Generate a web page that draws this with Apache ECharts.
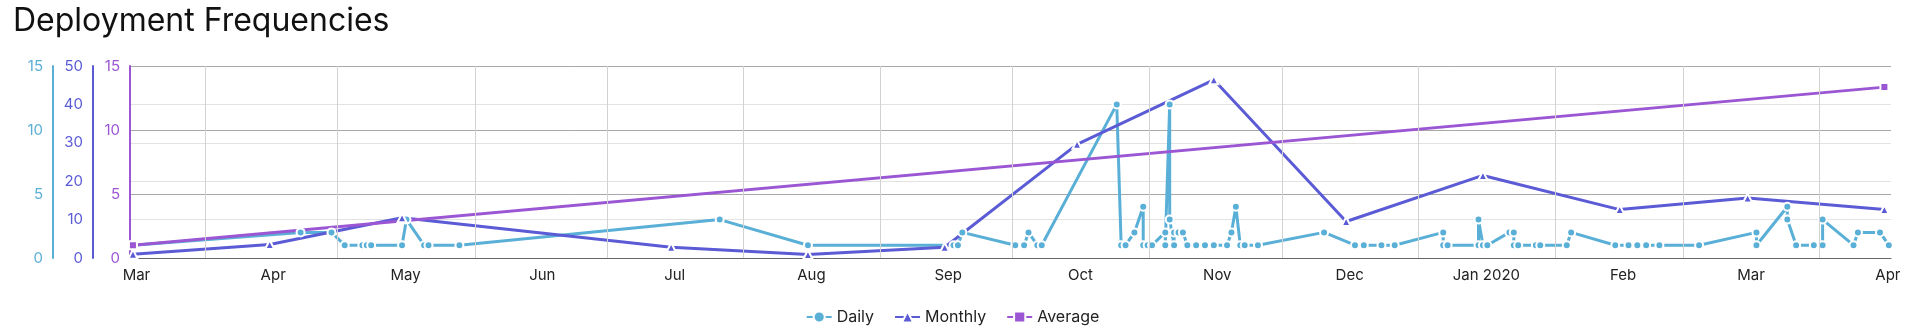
<!DOCTYPE html>
<html><head><meta charset="utf-8">
<script src="https://cdn.jsdelivr.net/npm/echarts@6/dist/echarts.min.js"></script>
<style>html,body{margin:0;padding:0;background:#fff;}#c{width:1905px;height:334px;}</style>
</head><body><div id="c"></div><script>
// ---- data ----
const dailyDates = ['2019-03-01','2019-04-08','2019-04-15','2019-04-18','2019-04-22','2019-04-23','2019-04-24','2019-05-01','2019-05-02','2019-05-06','2019-05-07','2019-05-14','2019-07-12','2019-08-01','2019-09-03','2019-09-04','2019-09-05','2019-09-17','2019-09-19','2019-09-20','2019-09-22','2019-09-23','2019-10-10','2019-10-11','2019-10-12','2019-10-14','2019-10-16','2019-10-16','2019-10-17','2019-10-18','2019-10-21','2019-10-21','2019-10-22','2019-10-22','2019-10-23','2019-10-23','2019-10-24','2019-10-25','2019-10-26','2019-10-28','2019-10-30','2019-11-01','2019-11-04','2019-11-05','2019-11-06','2019-11-07','2019-11-08','2019-11-11','2019-11-26','2019-12-03','2019-12-05','2019-12-09','2019-12-12','2019-12-23','2019-12-23','2019-12-24','2019-12-31','2019-12-31','2020-01-01','2020-01-02','2020-01-07','2020-01-08','2020-01-08','2020-01-09','2020-01-13','2020-01-14','2020-01-20','2020-01-21','2020-01-31','2020-02-03','2020-02-05','2020-02-07','2020-02-10','2020-02-19','2020-03-03','2020-03-03','2020-03-10','2020-03-10','2020-03-12','2020-03-16','2020-03-18','2020-03-18','2020-03-25','2020-03-26','2020-03-31','2020-04-02'];
const dailyValues = [1,2,2,1,1,1,1,1,3,1,1,1,3,1,1,1,2,1,1,2,1,1,12,1,1,2,4,1,1,1,2,1,12,3,1,2,2,2,1,1,1,1,1,2,4,1,1,1,2,1,1,1,1,2,1,1,1,3,1,1,2,2,1,1,1,1,1,2,1,1,1,1,1,1,2,1,4,3,1,1,1,3,1,2,2,1];
const monthlyDates = ['2019-03-01','2019-04-01','2019-05-01','2019-07-01','2019-08-01','2019-09-01','2019-10-01','2019-11-01','2019-12-01','2020-01-01','2020-02-01','2020-03-01','2020-04-01'];
const monthlyValues = [1,3.5,10.5,2.8,0.9,2.8,29.6,46.4,9.5,21.5,12.6,15.6,12.6];
const averageDates = ['2019-03-01','2020-04-01'];
const averageValues = [1.0,13.35];
const xTickDates = ['2019-03-01','2019-04-01','2019-05-01','2019-06-01','2019-07-01','2019-08-01','2019-09-01','2019-10-01','2019-11-01','2019-12-01','2020-01-01','2020-02-01','2020-03-01','2020-04-01'];
const xTickLabels = ['Mar','Apr','May','Jun','Jul','Aug','Sep','Oct','Nov','Dec','Jan 2020','Feb','Mar','Apr'];
const xGridDates = ['2019-03-17 12:00','2019-04-16 10:00','2019-05-17 12:00','2019-06-16 10:00','2019-07-17 10:00','2019-08-17 10:00','2019-09-16 10:00','2019-10-17 10:00','2019-11-16 10:00','2019-12-17 10:00','2020-01-17 12:00','2020-02-15 12:00','2020-03-17 07:00'];
const xRange = ['2019-02-28 08:00','2020-04-02 12:00'];
const dailyAxis = {min:0,max:15,interval:5};
const monthlyAxis = {min:0,max:50,interval:10};
const averageAxis = {min:0,max:15,interval:5};

// ---- chart ----
const T = s => +echarts.number.parseDate(s);
const C = {daily:'#5aafd7', monthly:'#5b5bd6', average:'#9b57d3'};
const FONT = 'Inter, "Noto Sans", sans-serif';
const zip = (d, v) => d.map((x, i) => [T(x), v[i]]);
const tickVals = xTickDates.map(T);
const chart = echarts.init(document.getElementById('c'), null, {renderer:'canvas'});
function yAx(cfg, color, offset, split) {
  return Object.assign({
    type:'value', position:'left', offset,
    axisLine:{show:true, lineStyle:{color, width:2}},
    axisTick:{show:false},
    axisLabel:{color, fontSize:15, fontFamily:FONT, margin:10},
    splitLine: split ? {show:true, lineStyle:{color:split, width:1}} : {show:false}
  }, cfg);
}
chart.setOption({
  animation:false,
  title:{text:'Deployment Frequencies', left:8, top:0, textStyle:{fontSize:32, fontWeight:'normal', color:'#111', fontFamily:FONT}},
  legend:{data:['Daily','Monthly','Average'], bottom:4, left:'center', itemGap:20, itemWidth:25, itemHeight:14,
    textStyle:{fontSize:16, color:'#222', fontFamily:FONT}},
  grid:{left:130, right:14, top:66, bottom:76},
  xAxis:{type:'value', min:T(xRange[0]), max:T(xRange[1]),
    axisLine:{show:true, lineStyle:{color:'#666', width:1}},
    axisTick:{show:false},
    splitLine:{show:false},
    axisLabel:{customValues:tickVals, color:'#222', fontSize:15, fontFamily:FONT, margin:10, padding:[0,0,0,7],
      showMinLabel:true, showMaxLabel:true, hideOverlap:false,
      formatter:(v) => { const i = tickVals.indexOf(+v); return i >= 0 ? xTickLabels[i] : ''; }}
  },
  yAxis:[
    yAx(dailyAxis, C.daily, 77, null),
    yAx(monthlyAxis, C.monthly, 37, '#e2e2e2'),
    yAx(averageAxis, C.average, 0, '#a8a8a8')
  ],
  series:[
    {type:'line', name:'grid', data:[], z:1, silent:true,
      markLine:{silent:true, symbol:'none', label:{show:false}, emphasis:{disabled:true},
        lineStyle:{color:'#d2d2d2', width:1, type:'solid'},
        data:xGridDates.map(d => ({xAxis:T(d)}))}},
    {type:'line', name:'Daily', yAxisIndex:0, data:zip(dailyDates, dailyValues),
      symbol:'circle', symbolSize:8, lineStyle:{color:C.daily, width:3},
      itemStyle:{color:C.daily, borderColor:'#fff', borderWidth:2}},
    {type:'line', name:'Monthly', yAxisIndex:1, data:zip(monthlyDates, monthlyValues),
      symbol:'triangle', symbolSize:9, lineStyle:{color:C.monthly, width:3},
      itemStyle:{color:C.monthly, borderColor:'#fff', borderWidth:2}},
    {type:'line', name:'Average', yAxisIndex:2, data:zip(averageDates, averageValues),
      symbol:'rect', symbolSize:8, lineStyle:{color:C.average, width:3},
      itemStyle:{color:C.average, borderColor:'#fff', borderWidth:2}}
  ]
});
</script></body></html>
